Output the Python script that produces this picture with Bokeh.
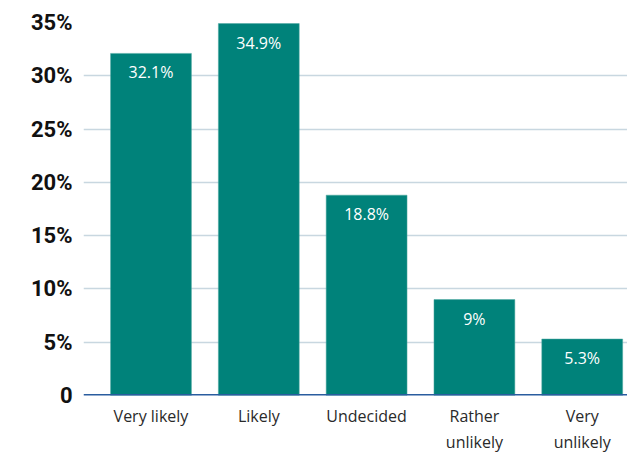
from bokeh.plotting import figure
from bokeh.models import ColumnDataSource, FixedTicker, Range1d, Span, LabelSet
from bokeh.core.properties import value
from bokeh.embed import file_html
from bokeh.resources import INLINE

categories = ["Very likely", "Likely", "Undecided", "Rather\nunlikely", "Very\nunlikely"]
values = [32.1, 34.9, 18.8, 9.0, 5.3]
value_labels = ["32.1%", "34.9%", "18.8%", "9%", "5.3%"]
y_ticks = [0, 5, 10, 15, 20, 25, 30, 35]
y_tick_labels = ["0", "5%", "10%", "15%", "20%", "25%", "30%", "35%"]

idx = list(range(len(categories)))
src = ColumnDataSource(dict(x=idx, top=values, lab=value_labels))

p = figure(width=627, height=455, output_backend="svg", toolbar_location=None,
           x_range=Range1d(-0.626, 4.42), y_range=Range1d(0, 35),
           min_border_left=83, min_border_right=0, min_border_top=22, min_border_bottom=57)
p.outline_line_color = None
p.background_fill_color = "white"

p.vbar(x="x", top="top", width=0.75, source=src, fill_color="#00827A", line_color="#4fa8a0", line_width=0.5)

labels = LabelSet(x="x", y="top", text="lab", source=src, text_align="center", text_baseline="top",
                  y_offset=-8, text_color="white", text_font=value("Open Sans"), text_font_size="16px")
p.add_layout(labels)

p.xaxis.ticker = FixedTicker(ticks=idx)
p.xaxis.major_label_overrides = {i: c for i, c in enumerate(categories)}
p.xaxis.axis_line_color = None
p.xaxis.major_tick_line_color = None
p.xaxis.minor_tick_line_color = None
p.xaxis.major_label_text_font = "Open Sans"
p.xaxis.major_label_text_font_size = "16px"
p.xaxis.major_label_text_color = "#2a2a2a"
p.xaxis.major_label_standoff = 3

p.yaxis.ticker = FixedTicker(ticks=y_ticks)
p.yaxis.major_label_overrides = {t: l for t, l in zip(y_ticks, y_tick_labels)}
p.yaxis.axis_line_color = None
p.yaxis.major_tick_line_color = None
p.yaxis.minor_tick_line_color = None
p.yaxis.major_label_text_font = "Roboto"
p.yaxis.major_label_text_font_style = "bold"
p.yaxis.major_label_text_font_size = "22px"
p.yaxis.major_label_text_color = "#111111"
p.yaxis.major_label_standoff = 5

p.xgrid.grid_line_color = None
p.ygrid.grid_line_color = "#c8d7e0"
p.ygrid.grid_line_width = 1.5

p.add_layout(Span(location=0, dimension="width", line_color="#2a5d9f", line_width=3))

open("out.html", "w").write(file_html(p, INLINE))
